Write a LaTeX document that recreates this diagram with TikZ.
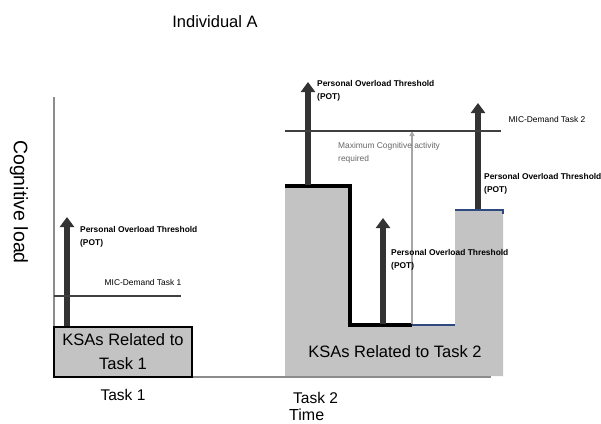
\documentclass[tikz,border=0pt]{standalone}
\usepackage{fontspec}
\setmainfont{Liberation Sans}
\usepackage{xcolor}
\usepackage{tikz}
\usetikzlibrary{positioning, arrows.meta}

\definecolor{ksagray}{RGB}{195,195,195}
\definecolor{potdark}{RGB}{51,51,51}
\definecolor{edgeblue}{RGB}{47,72,128}

\begin{document}
\begin{tikzpicture}[x=1pt, y=-1pt,
        ksabox/.style={rectangle, draw=black, line width=1.3pt, fill=ksagray, align=center, inner sep=0pt, font=\fontsize{16.5}{24}\selectfont},
        potarrow/.style={-{Triangle[width=14pt,length=10pt]}, line width=6pt, draw=potdark},
        potlabel/.style={anchor=west, align=left, inner sep=0pt, font=\fontsize{8.4}{13}\selectfont\bfseries},
        smalllabel/.style={inner sep=0pt, font=\fontsize{8.4}{13}\selectfont},
        micline/.style={line width=1.2pt, draw=black!75},
        axis/.style={line width=1.2pt, draw=black!45},
        bigtext/.style={inner sep=0pt, font=\fontsize{16}{19}\selectfont}]

        \useasboundingbox (0,0) rectangle (601,423);

        \node[bigtext, font=\fontsize{16.5}{19}\selectfont] (title) at (215,22) {Individual A};
        \node[bigtext, font=\fontsize{19.5}{22}\selectfont, rotate=-90] (ylabel) at (19,202) {Cognitive load};

        % task 2 profile
        \fill[ksagray] (285,186) -- (350,186) -- (350,325) -- (455,325) -- (455,210)
            -- (503,210) -- (503,376) -- (285,376) -- cycle;
        \draw[line width=4pt, line join=miter] (285,186) -- (350,186) -- (350,325) -- (412,325);
        \draw[edgeblue, line width=1.5pt] (412,325) -- (455,325);
        \draw[edgeblue, line width=1.5pt] (455,210) -- (503,210) -- (503,214);
        \node[bigtext, font=\fontsize{16.5}{19}\selectfont] (ksatwo) at (395,352) {KSAs Related to Task 2};

        % axes
        \coordinate (origin) at (54,377);
        \coordinate (ytop) at (54,97);
        \coordinate (xend) at (491,377);
        \draw[axis] (ytop) -- (origin) -- (xend);

        % task 1
        \node[ksabox, minimum width=138pt, minimum height=50pt] (ksaone) at (123,352) {KSAs Related to\\Task 1};

        \coordinate (micone-l) at (54,296);
        \coordinate (micone-r) at (181,296);
        \coordinate (potone-b) at (67,326);
        \coordinate (potone-t) at (67,217);
        \draw[potarrow] (potone-b) -- (potone-t);
        \draw[micline] (micone-l) -- (micone-r);
        \node[smalllabel] (micone) at (143,282) {MIC-Demand Task 1};
        \node[potlabel] (potone) at (80,236.5) {Personal Overload Threshold\\(POT)};

        % task 2 arrows
        \coordinate (maxact-b) at (412,324);
        \coordinate (maxact-t) at (412,131);
        \draw[black!35, line width=1.2pt, -{Triangle[width=5pt,length=5pt]}] (maxact-b) -- (maxact-t);
        \node[smalllabel, anchor=west, align=left, text=black!60] (maxact) at (338,152.5) {Maximum Cognitive activity\\required};

        \coordinate (pota-b) at (308,185);
        \coordinate (pota-t) at (308,82);
        \coordinate (potb-b) at (383,324);
        \coordinate (potb-t) at (383,218);
        \coordinate (potc-b) at (478,209);
        \coordinate (potc-t) at (478,103);
        \draw[potarrow] (pota-b) -- (pota-t);
        \draw[potarrow] (potb-b) -- (potb-t);
        \draw[potarrow] (potc-b) -- (potc-t);
        \node[potlabel] (pota) at (317,90.5) {Personal Overload Threshold\\(POT)};
        \node[potlabel] (potb) at (391,259.5) {Personal Overload Threshold\\(POT)};
        \node[potlabel] (potc) at (484,183.5) {Personal Overload Threshold\\(POT)};

        \coordinate (mictwo-l) at (285,131);
        \coordinate (mictwo-r) at (501,131);
        \draw[micline] (mictwo-l) -- (mictwo-r);
        \node[smalllabel] (mictwo) at (547,119) {MIC-Demand Task 2};

        % time axis labels
        \node[bigtext, font=\fontsize{15.5}{19}\selectfont] (taskone) at (123,395) {Task 1};
        \node[bigtext, font=\fontsize{15.5}{19}\selectfont, anchor=west] (tasktwo) at (293,398) {Task 2};
        \node[bigtext, anchor=west] (time) at (289,414.5) {Time};
      \end{tikzpicture}
\end{document}
